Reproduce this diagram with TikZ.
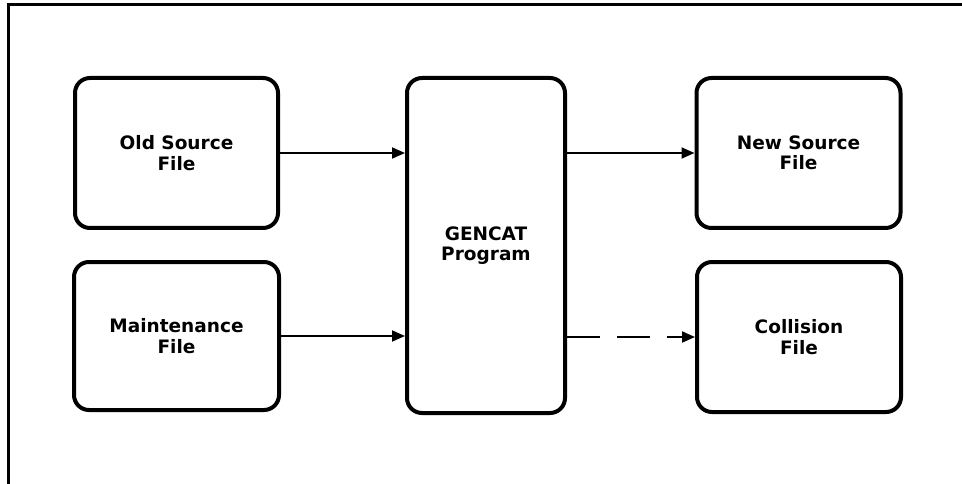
\documentclass[tikz,border=0pt]{standalone}
\usepackage{fontspec}
\setmainfont{DejaVu Sans}
\usetikzlibrary{arrows.meta}
\begin{document}
\begin{tikzpicture}[x=1pt,y=-1pt,
  filebox/.style={draw, line width=4pt, rounded corners=15pt, align=center,
    font=\fontsize{18.5}{20.5}\selectfont\bfseries, inner sep=0pt},
  flow/.style={line width=1.8pt, -{Triangle[length=13pt,width=11pt]}},
  frameline/.style={line width=3pt}]
\useasboundingbox (0,0) rectangle (962,484);
\draw[frameline] (8.5,484) coordinate (fb) -- (8.5,4.5) coordinate (ftl) -- (962,4.5) coordinate (ftr);
\node[filebox, minimum width=203pt, minimum height=150pt] (old) at (176.5,153) {Old Source\\File};
\node[filebox, minimum width=205pt, minimum height=148pt] (maint) at (176.5,336) {Maintenance\\File};
\node[filebox, minimum width=158pt, minimum height=335pt] (gen) at (486,245.5) {GENCAT\\Program};
\node[filebox, minimum width=204pt, minimum height=150pt] (new) at (798.5,153) {New Source\\File};
\node[filebox, minimum width=204pt, minimum height=150pt] (coll) at (799,337) {Collision\\File};
\draw[flow] (old.east) -- (old.east -| gen.west);
\draw[flow] (maint.east) -- (maint.east -| gen.west);
\draw[flow] (new.west -| gen.east) -- (new.west);
\draw[flow, dash pattern=on 33pt off 17pt] (coll.west -| gen.east) -- (coll.west);
\end{tikzpicture}
\end{document}
